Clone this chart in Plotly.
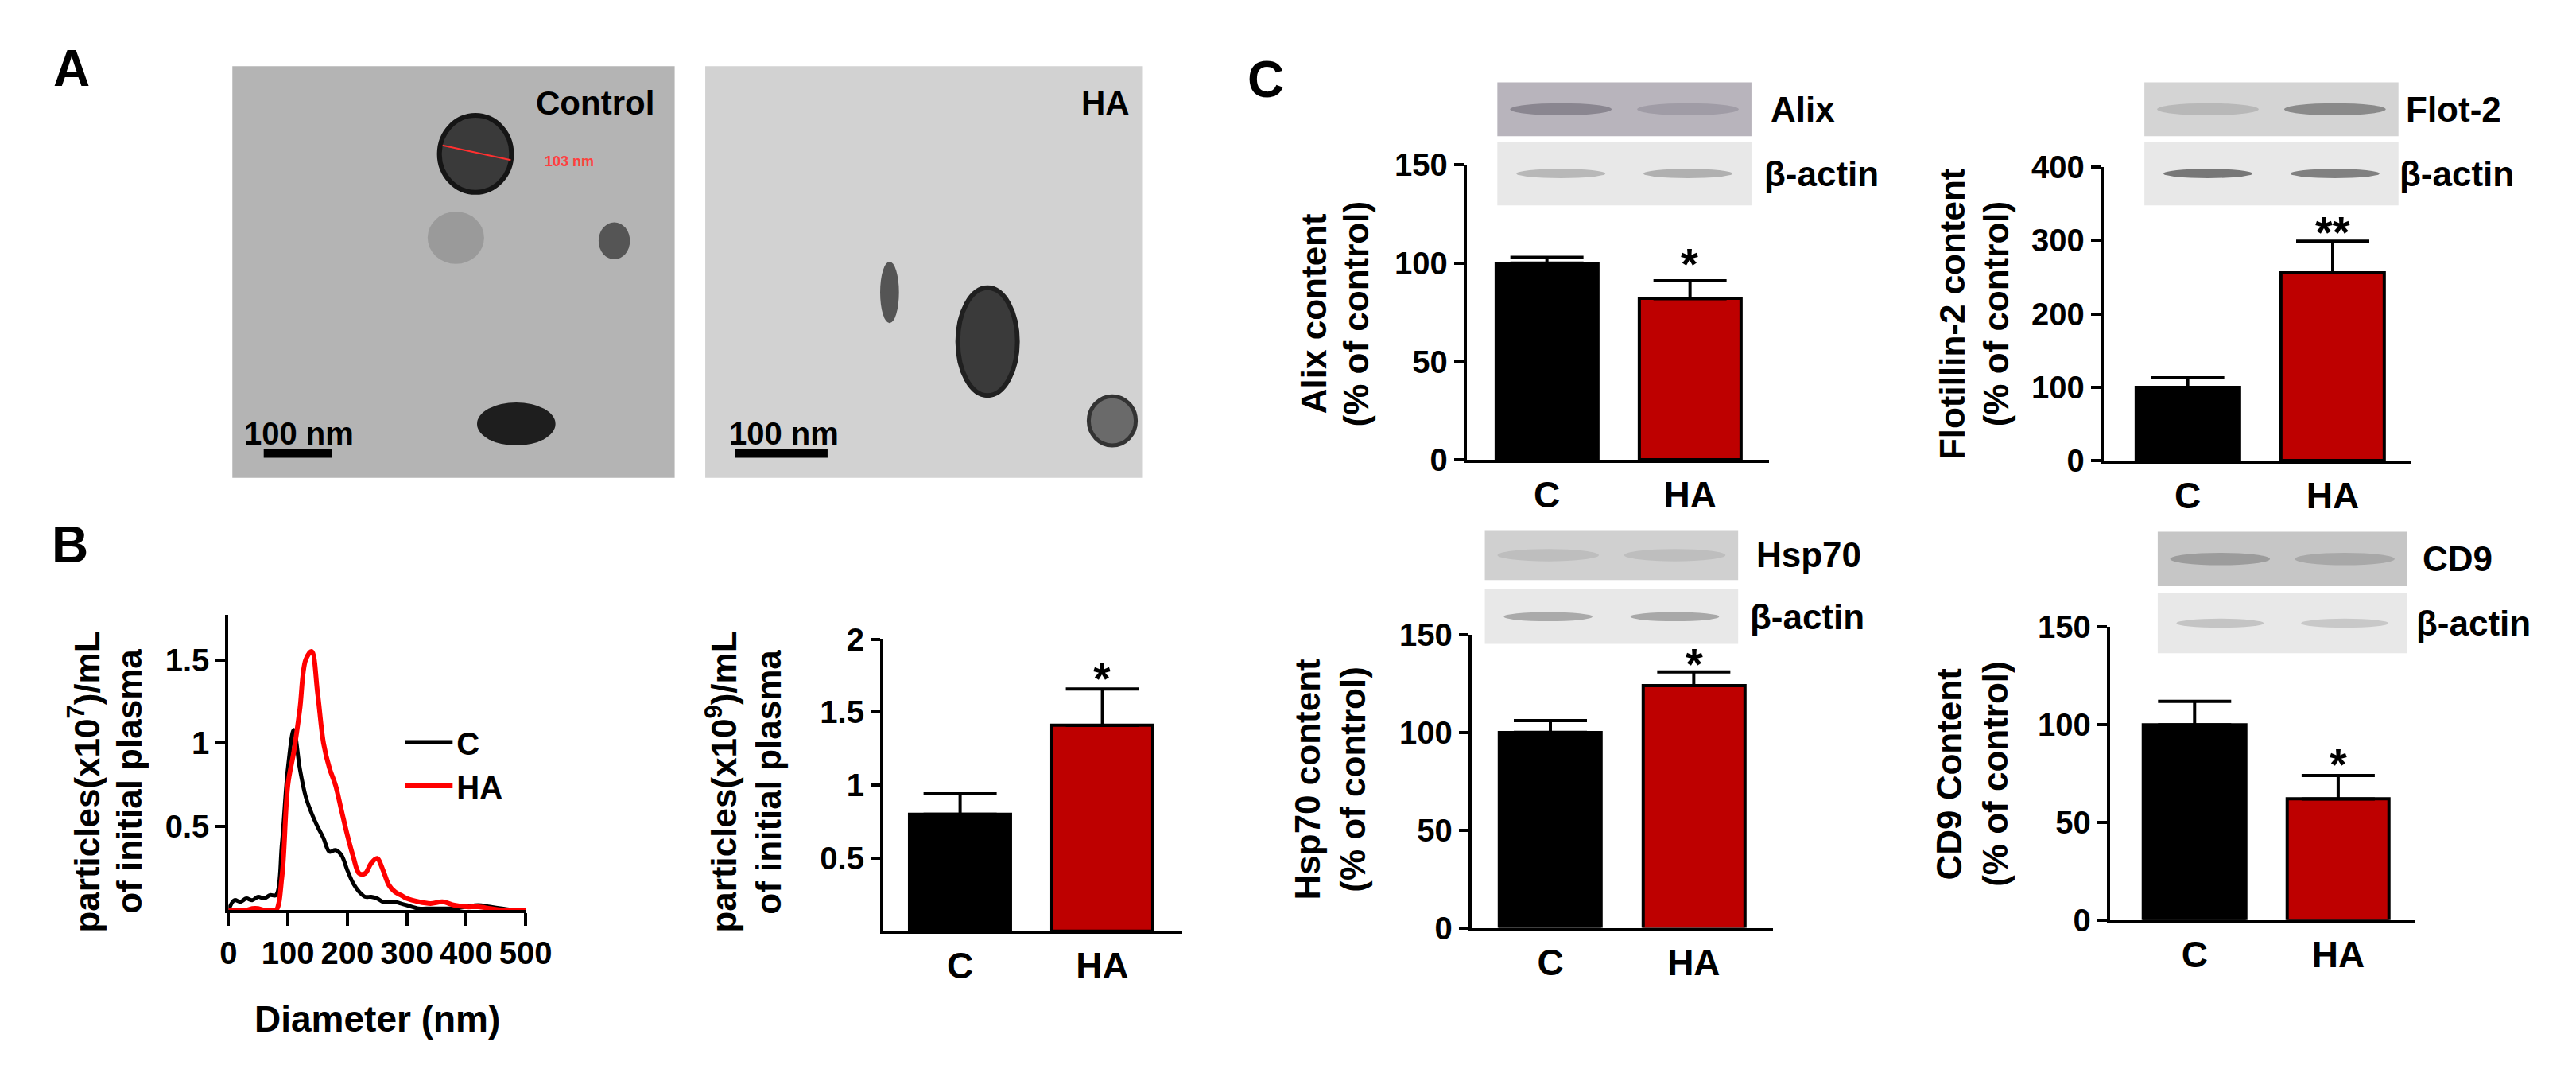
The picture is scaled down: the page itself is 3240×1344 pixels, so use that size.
import plotly.graph_objects as go

W, H = 3240, 1344
FONT = "Liberation Sans Narrow, Liberation Sans, Arial"
FONTW = "Liberation Sans, Arial"
RED = "#BE0000"

# ---- data ----
diam = [0, 10, 20, 30, 40, 50, 60, 70, 80, 90, 100, 110, 120, 130, 140, 150, 160, 170, 180,
        190, 200, 210, 220, 230, 240, 250, 260, 270, 280, 290, 300, 320, 340, 360, 380, 400,
        420, 440, 460, 480, 500]
conc_C = [0.0, 0.06, 0.05, 0.07, 0.06, 0.08, 0.07, 0.09, 0.09, 0.4, 0.85, 1.08, 0.85, 0.68,
          0.58, 0.5, 0.43, 0.35, 0.36, 0.33, 0.24, 0.16, 0.11, 0.08, 0.08, 0.07, 0.05, 0.05,
          0.05, 0.04, 0.03, 0.01, 0.01, 0.01, 0.01, 0.02, 0.03, 0.02, 0.01, 0.0, 0.0]
conc_HA = [0.0, 0.0, 0.0, 0.0, 0.01, 0.01, 0.0, 0.0, 0.0, 0.2, 0.75, 0.95, 1.2, 1.5,
           1.55, 1.3, 1.0, 0.85, 0.75, 0.6, 0.45, 0.32, 0.22, 0.22, 0.28, 0.31, 0.24, 0.15,
           0.11, 0.09, 0.07, 0.05, 0.04, 0.05, 0.03, 0.02, 0.02, 0.01, 0.0, 0.0, 0.0]
groups = ["C", "HA"]
particles = [0.80, 1.41]; particles_err = [0.14, 0.25]
alix = [100, 82]; alix_err = [3, 9]
flot = [100, 256]; flot_err = [13, 43]
hsp = [100, 124]; hsp_err = [6, 7]
cd9 = [100, 62]; cd9_err = [12, 12]

fig = go.Figure()

def px(x): return x / W
def py(y): return 1 - y / H

def axis_style(**kw):
    d = dict(showline=True, linecolor="black", linewidth=4, ticks="outside", tickwidth=4,
             ticklen=12, tickcolor="black", showgrid=False, zeroline=False,
             tickfont=dict(family=FONT, size=40, color="black", weight="bold"))
    d.update(kw); return d

layout = {}
fig.add_trace(go.Scatter(x=diam, y=conc_C, mode="lines", name="C", line=dict(color="black", width=5),
                         xaxis="x", yaxis="y", line_shape="spline"))
fig.add_trace(go.Scatter(x=diam, y=conc_HA, mode="lines", name="HA", line=dict(color="#FF0000", width=6),
                         xaxis="x", yaxis="y", line_shape="spline"))
layout["xaxis"] = axis_style(domain=[px(272), px(651)], range=[0, 500], dtick=100, anchor="y", ticklen=16)
layout["yaxis"] = axis_style(domain=[py(1152), py(768)], range=[0, 1.77], tickvals=[0.5, 1, 1.5],
                             ticktext=["0.5", "1", "1.5"], anchor="x")

panels = [
    ("2", particles, particles_err, (1107, 1488), (800, 1179), [0, 2], [0.5, 1, 1.5, 2], [-0.54, 1.56]),
    ("3", alix, alix_err, (1851, 2236), (183, 567), [0, 150], [0, 50, 100, 150], [-0.56, 1.55]),
    ("4", flot, flot_err, (2663, 3055), (186, 568), [0, 400], [0, 100, 200, 300, 400], [-0.58, 1.54]),
    ("5", hsp, hsp_err, (1857, 2241), (794, 1175), [0, 150], [0, 50, 100, 150], [-0.55, 1.55]),
    ("6", cd9, cd9_err, (2671, 3061), (784, 1165), [0, 150], [0, 50, 100, 150], [-0.59, 1.54]),
]
for n, vals, errs, xd, yd, yr, tv, xr in panels:
    fig.add_trace(go.Bar(x=groups, y=vals, width=0.71, marker=dict(color=["black", RED],
                         line=dict(color="black", width=4)),
                         error_y=dict(type="data", symmetric=False, array=errs, arrayminus=[0, 0],
                                      color="black", thickness=4, width=46),
                         xaxis="x" + n, yaxis="y" + n, showlegend=False))
    layout["xaxis" + n] = axis_style(domain=[px(xd[0]), px(xd[1])], range=xr, anchor="y" + n,
                                     ticks="", ticklen=0,
                                     tickfont=dict(family=FONT, size=46, color="black", weight="bold"))
    layout["yaxis" + n] = axis_style(domain=[py(yd[1]), py(yd[0])], range=yr, tickvals=tv, anchor="x" + n)

fig.update_layout(**layout)

ann = []
def text(x, y, t, size=36, angle=0, family=FONTW, xanchor="center", color="black"):
    ann.append(dict(x=px(x), y=py(y), xref="paper", yref="paper", text=t, showarrow=False,
                    textangle=angle, xanchor=xanchor, yanchor="middle",
                    font=dict(family=family, size=size, color=color, weight="bold")))

shapes = []
def rect(x0, y0, x1, y1, fill):
    shapes.append(dict(type="rect", xref="paper", yref="paper", x0=px(x0), x1=px(x1), y0=py(y1), y1=py(y0),
                       fillcolor=fill, line=dict(width=0), layer="below"))
def ell(cx, cy, rx, ry, fill, lw=0, lc="black"):
    shapes.append(dict(type="circle", xref="paper", yref="paper", x0=px(cx - rx), x1=px(cx + rx),
                       y0=py(cy + ry), y1=py(cy - ry), fillcolor=fill, line=dict(width=lw, color=lc)))

text(72, 58, "A", 64, family=FONT); text(70, 677, "B", 64, family=FONT); text(1595, 72, "C", 64, family=FONT)

# TEM images (illustrative)
rect(277, 55, 841, 590, "#B4B4B4")
ell(587, 169, 46, 50, "#3A3A3A", 6, "#151515")
ell(562, 278, 36, 34, "#9A9A9A")
ell(764, 282, 20, 24, "#555555")
ell(639, 520, 50, 28, "#1E1E1E")
shapes.append(dict(type="line", xref="paper", yref="paper", x0=px(545), y0=py(158), x1=px(632), y1=py(177),
                   line=dict(color="#FF3030", width=2)))
text(673, 179, "103 nm", 18, family=FONT, color="#FF4040", xanchor="left")
text(817, 103, "Control", 42, family=FONT, xanchor="right")
text(362, 532, "100 nm", 40, family=FONT)
rect(317, 552, 404, 564, "black")
rect(880, 55, 1437, 590, "#D2D2D2")
ell(1240, 413, 38, 70, "#3A3A3A", 6, "#202020")
ell(1115, 349, 12, 40, "#555555")
ell(1399, 516, 30, 32, "#6A6A6A", 5, "#333333")
text(1423, 103, "HA", 42, family=FONT, xanchor="right")
text(980, 532, "100 nm", 40, family=FONT)
rect(918, 552, 1036, 564, "black")

def blot(x0, x1, y0, y1, y2, y3, top_bg, band1, band2, act1, act2, lab, labx):
    rect(x0, y0, x1, y1, top_bg)
    rect(x0, y2, x1, y3, "#E8E8E8")
    m = (x0 + x1) / 2
    ell((x0 + m) / 2, (y0 + y1) / 2, (m - x0) * 0.4, 8, band1)
    ell((m + x1) / 2, (y0 + y1) / 2, (m - x0) * 0.4, 8, band2)
    ell((x0 + m) / 2, (y2 + y3) / 2, (m - x0) * 0.35, 6, act1)
    ell((m + x1) / 2, (y2 + y3) / 2, (m - x0) * 0.35, 6, act2)
    text(labx, (y0 + y1) / 2, lab, 44, family=FONT, xanchor="left")
    text(labx - 8, (y2 + y3) / 2, "β-actin", 44, family=FONT, xanchor="left")

blot(1890, 2214, 76, 146, 153, 236, "#B8B4BC", "#8A8690", "#A09CA6", "#B8B8B8", "#B0B0B0", "Alix", 2236)
blot(2715, 3039, 76, 146, 153, 236, "#D4D4D4", "#B8B8B8", "#8A8A8A", "#777777", "#808080", "Flot-2", 3046)
blot(1874, 2197, 658, 723, 735, 806, "#D0D0D0", "#BEBEBE", "#BEBEBE", "#AAAAAA", "#A8A8A8", "Hsp70", 2218)
blot(2732, 3050, 660, 731, 740, 818, "#C6C6C6", "#9C9C9C", "#A8A8A8", "#C4C4C4", "#C8C8C8", "CD9", 3068)

TS = 44
text(462, 1293, "Diameter (nm)", 46)
text(88, 985, "particles(x10<sup>7</sup>)/mL", TS, angle=-90)
text(146, 985, "of initial plasma", TS, angle=-90)
text(901, 985, "particles(x10<sup>9</sup>)/mL", TS, angle=-90)
text(961, 985, "of initial plasma", TS, angle=-90)
text(1656, 377, "Alix content", TS, angle=-90)
text(1710, 377, "(% of control)", TS, angle=-90)
text(2470, 377, "Flotillin-2 content", TS, angle=-90)
text(2526, 377, "(% of control)", TS, angle=-90)
text(1648, 982, "Hsp70 content", TS, angle=-90)
text(1706, 982, "(% of control)", TS, angle=-90)
text(2466, 975, "CD9 Content", TS, angle=-90)
text(2524, 975, "(% of control)", TS, angle=-90)

text(1386, 850, "*", 56); text(2135, 312, "*", 56); text(2955, 270, "**", 56)
text(2141, 832, "*", 56); text(2962, 962, "*", 56)

fig.update_layout(width=W, height=H, margin=dict(l=0, r=0, t=0, b=0), paper_bgcolor="white",
                  plot_bgcolor="rgba(0,0,0,0)", annotations=ann, shapes=shapes, bargap=0,
                  legend=dict(x=px(492), y=py(900), xanchor="left", yanchor="top", bgcolor="rgba(0,0,0,0)",
                              font=dict(family=FONTW, size=40, color="black", weight="bold"),
                              itemwidth=60, tracegroupgap=6))
fig.write_html("out.html")
